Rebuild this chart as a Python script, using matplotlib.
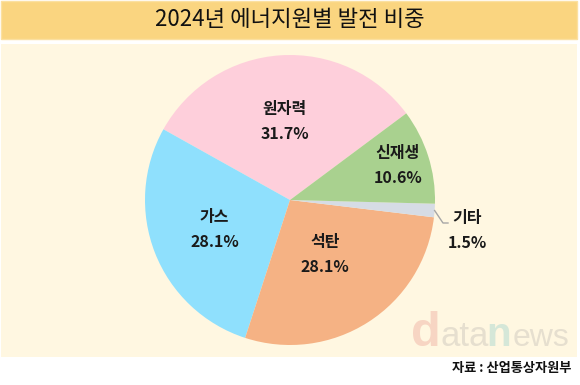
import matplotlib
matplotlib.use("Agg")
import matplotlib.pyplot as plt
from matplotlib.patches import Rectangle
import numpy as np

plt.rcParams['font.family'] = ['Noto Sans CJK KR', 'DejaVu Sans']

title = "2024년 에너지원별 발전 비중"
categories = ["원자력", "가스", "석탄", "기타", "신재생"]
values = [31.7, 28.1, 28.1, 1.5, 10.6]
colors = ["#fecfdb", "#8fe0fd", "#f5b284", "#d6dce5", "#a9d18f"]
source = "자료 : 산업통상자원부"

W, H = 580, 385
fig = plt.figure(figsize=(W / 100, H / 100), dpi=100)
fig.patch.set_facecolor("white")
ax = fig.add_axes([0, 0, 1, 1])

def py(y):
    return H - y

# background panels
ax.add_patch(Rectangle((1, py(39)), 576, 38, facecolor="#fad580", edgecolor="#fbe0a0", lw=1, zorder=0))
ax.add_patch(Rectangle((1, py(357)), 576, 313, facecolor="#fff7e1", edgecolor="none", zorder=0))

cx, cy, R = 290, 200, 145
wedges, _ = ax.pie(values, colors=colors, startangle=36.7, counterclock=True,
                   center=(cx, py(cy)), radius=R,
                   wedgeprops=dict(linewidth=0, edgecolor="none"))
for w in wedges:
    w.set_zorder(2)

ax.set_xlim(0, W)
ax.set_ylim(0, H)
ax.set_aspect("equal")
ax.axis("off")

# label positions (fraction of radius) per slice
dist = [0.54, 0.56, 0.45, None, 0.78]
for w, cat, v, d in zip(wedges, categories, values, dist):
    mid = np.deg2rad((w.theta1 + w.theta2) / 2)
    if d is None:
        # leader line label
        ex, ey = cx + R * np.cos(mid), py(cy) + R * np.sin(mid)
        ax.plot([ex, 443, 448], [ey, py(223), py(223)], color="#a6a6a6", lw=1, zorder=3)
        tx, ty = 467, py(230)
    else:
        tx, ty = cx + d * R * np.cos(mid), py(cy) + d * R * np.sin(mid)
    ax.text(tx, ty + 12.5, cat, ha="center", va="center", fontsize=11.5,
            fontweight="bold", color="#1a1a1a", zorder=4)
    ax.text(tx, ty - 12.5, f"{v}%", ha="center", va="center", fontsize=11.5,
            fontweight="bold", color="#1a1a1a", zorder=4)

# title
ax.text(W / 2, py(20), title, ha="center", va="center", fontsize=16,
        color="#111111", zorder=4)

# watermark
wm_y = py(346)
ax.text(411, wm_y, "d", fontsize=35, fontweight="bold", color="#f7d5c3",
        family="Liberation Sans", ha="left", va="baseline", zorder=1)
ax.text(440, wm_y, "ata", fontsize=25, color="#e6dfcf",
        family="Liberation Sans", ha="left", va="baseline", zorder=1)
ax.text(486, wm_y, "n", fontsize=29, fontweight="bold", color="#d5e7d8",
        family="Liberation Sans", ha="left", va="baseline", zorder=1)
ax.text(513, wm_y, "ews", fontsize=23, color="#e6dfcf",
        family="Liberation Sans", ha="left", va="baseline", zorder=1)

# source
ax.text(571, py(368), source, ha="right", va="center", fontsize=9.5,
        fontweight="bold", color="#111111", zorder=4)

fig.savefig("out.png", dpi=100, facecolor=fig.get_facecolor())
